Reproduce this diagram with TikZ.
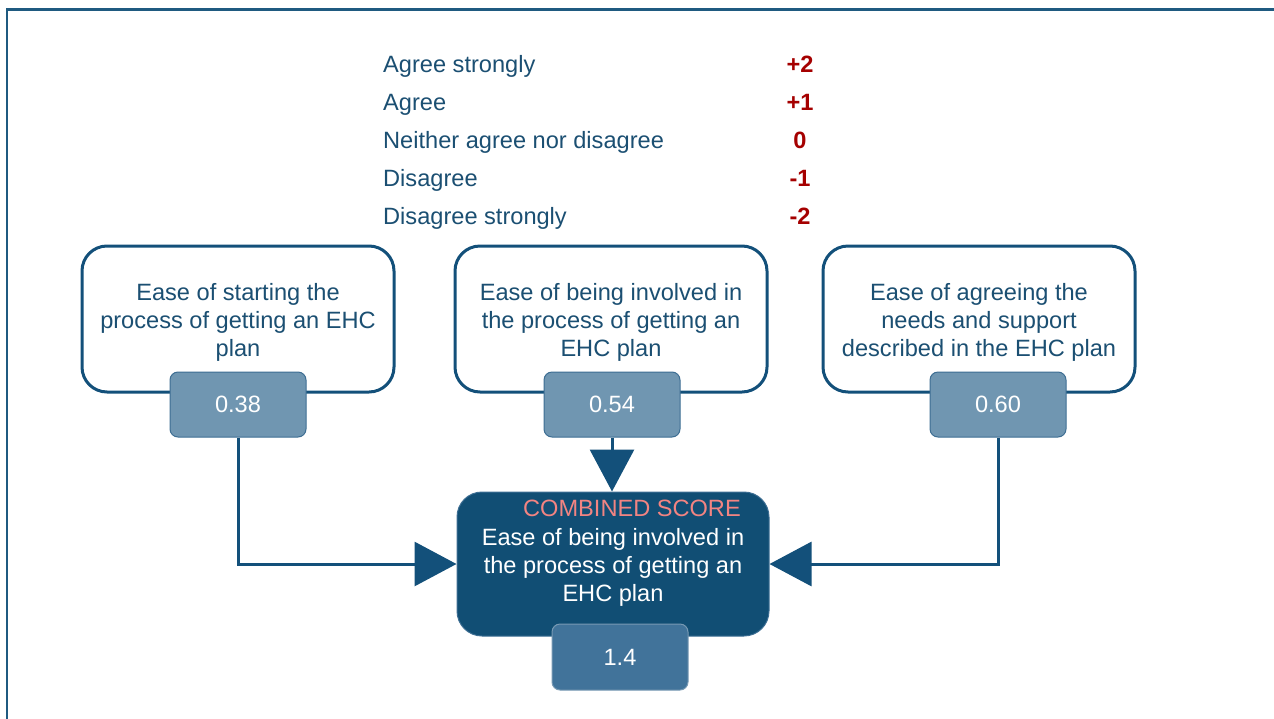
\documentclass[tikz,border=0pt]{standalone}
\usepackage{fontspec}
\setmainfont{Liberation Sans}
\usetikzlibrary{arrows.meta}
\definecolor{navy}{HTML}{13507A}
\definecolor{txtnavy}{HTML}{1B4F72}
\definecolor{scorered}{HTML}{A50000}
\definecolor{valfill}{HTML}{7096B1}
\definecolor{valborder}{HTML}{3D6E93}
\definecolor{combfill}{HTML}{114E74}
\definecolor{totfill}{HTML}{41739A}
\definecolor{coral}{HTML}{F28482}
\definecolor{framecol}{HTML}{1F5A80}
\tikzset{
  basefont/.style={font=\fontsize{23.6}{28}\selectfont},
  legendtxt/.style={basefont, text=txtnavy, inner sep=0pt, anchor=base west},
  legendnum/.style={basefont, font=\fontsize{23.6}{28}\selectfont\bfseries, text=scorered, inner sep=0pt, anchor=base},
  qbox/.style={draw=navy, line width=3pt, fill=white, rounded corners=25pt, minimum width=312pt, minimum height=146pt, inner sep=0pt},
  qtext/.style={basefont, text=txtnavy, align=center, inner sep=0pt},
  valbox/.style={draw=valborder, line width=1pt, fill=valfill, rounded corners=8pt, minimum width=136pt, minimum height=65pt, inner sep=0pt, basefont, text=white},
  combbox/.style={draw=valborder, line width=1pt, fill=combfill, rounded corners=25pt, minimum width=312pt, minimum height=144pt, inner sep=0pt},
  totbox/.style={draw=valborder!70!white, line width=1pt, fill=totfill, rounded corners=8pt, minimum width=136pt, minimum height=66pt, inner sep=0pt, basefont, text=white},
  conn/.style={draw=navy, line width=3pt, -{Triangle[length=42pt,width=44pt]}},
}
\begin{document}
\begin{tikzpicture}[x=1pt,y=-1pt]
\useasboundingbox (0,0) rectangle (1274,718);
\draw[framecol, line width=2.5pt] (7,9.5) rectangle (1300,740);

% legend
\node[legendtxt] (l1) at (383,72) {Agree strongly};
\node[legendtxt] (l2) at (383,110) {Agree};
\node[legendtxt] (l3) at (383,148) {Neither agree nor disagree};
\node[legendtxt] (l4) at (383,186) {Disagree};
\node[legendtxt] (l5) at (383,224) {Disagree strongly};
\node[legendnum] (n1) at (800,72) {+2};
\node[legendnum] (n2) at (800,110) {+1};
\node[legendnum] (n3) at (800,148) {0};
\node[legendnum] (n4) at (800,186) {-1};
\node[legendnum] (n5) at (800,224) {-2};

% question boxes
\node[qbox] (b1) at (238,319) {};
\node[qbox] (b2) at (611,319) {};
\node[qbox] (b3) at (979,319) {};
\node[qtext] (t1) at (238,322) {Ease of starting the\\process of getting an EHC\\plan};
\node[qtext] (t2) at (611,322) {Ease of being involved in\\the process of getting an\\EHC plan};
\node[qtext] (t3) at (979,322) {Ease of agreeing the\\needs and support\\described in the EHC plan};

% value boxes
\node[valbox] (v1) at (238,404.5) {0.38};
\node[valbox] (v2) at (612,404.5) {0.54};
\node[valbox] (v3) at (998,404.5) {0.60};

% combined box
\node[combbox] (comb) at (613,564) {};
\node[basefont, text=coral, inner sep=0pt, anchor=base east] (ct) at (741,516) {COMBINED SCORE};
\node[qtext, text=white] (cx) at (613,567) {Ease of being involved in\\the process of getting an\\EHC plan};
\node[totbox] (tot) at (620,657) {1.4};

% connectors
\draw[conn] (v1.south) |- (comb.west);
\draw[conn] (v2.south) -- (v2.south |- comb.north);
\draw[conn] (v3.south) |- (comb.east);
\end{tikzpicture}
\end{document}
